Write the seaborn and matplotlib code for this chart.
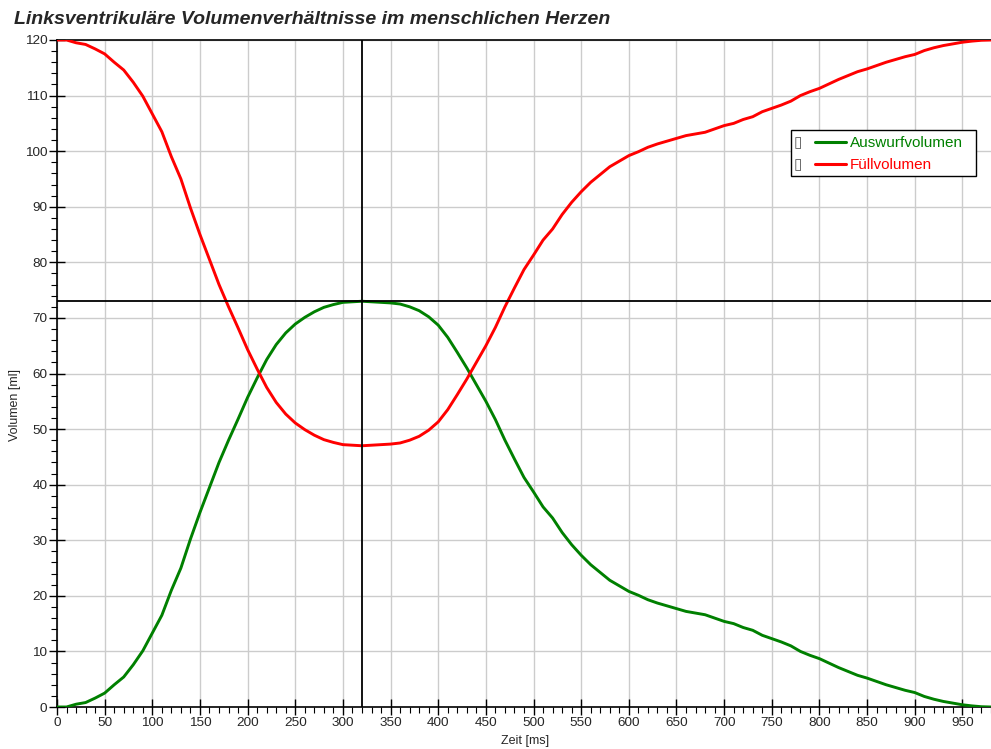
import numpy as np
import pandas as pd
import seaborn as sns
import matplotlib.pyplot as plt
from matplotlib.patches import Rectangle
from matplotlib.lines import Line2D
from matplotlib.ticker import MultipleLocator

# time axis in ms
zeit = list(range(0, 990, 10))

# ejection volume (ml)
auswurf = [0.0, 0.0, 0.5, 0.8, 1.6, 2.5, 4.0, 5.4, 7.6, 10.1,
           13.3, 16.5, 21.0, 25.0, 30.2, 35.0, 39.5, 44.0, 48.0, 51.8,
           55.7, 59.2, 62.5, 65.2, 67.3, 68.9, 70.1, 71.1, 71.9, 72.4,
           72.8, 72.9, 73.0, 72.9, 72.8, 72.7, 72.5, 72.0, 71.3, 70.2,
           68.7, 66.5, 63.8, 61.0, 58.0, 55.0, 51.7, 48.0, 44.6, 41.3,
           38.7, 36.0, 34.0, 31.4, 29.2, 27.3, 25.6, 24.2, 22.8, 21.8,
           20.8, 20.1, 19.3, 18.7, 18.2, 17.7, 17.2, 16.9, 16.6, 16.0,
           15.4, 15.0, 14.3, 13.8, 12.9, 12.3, 11.7, 11.0, 10.0, 9.3,
           8.7, 7.9, 7.1, 6.4, 5.7, 5.2, 4.6, 4.0, 3.5, 3.0,
           2.6, 1.9, 1.4, 1.0, 0.7, 0.4, 0.2, 0.05, 0.0]

# filling volume (ml)
fuell = [120.0, 120.0, 119.5, 119.2, 118.4, 117.5, 116.0, 114.6, 112.4, 109.9,
         106.7, 103.5, 99.0, 95.0, 89.8, 85.0, 80.5, 76.0, 72.0, 68.2,
         64.3, 60.8, 57.5, 54.8, 52.7, 51.1, 49.9, 48.9, 48.1, 47.6,
         47.2, 47.1, 47.0, 47.1, 47.2, 47.3, 47.5, 48.0, 48.7, 49.8,
         51.3, 53.5, 56.2, 59.0, 62.0, 65.0, 68.3, 72.0, 75.4, 78.7,
         81.3, 84.0, 86.0, 88.6, 90.8, 92.7, 94.4, 95.8, 97.2, 98.2,
         99.2, 99.9, 100.7, 101.3, 101.8, 102.3, 102.8, 103.1, 103.4, 104.0,
         104.6, 105.0, 105.7, 106.2, 107.1, 107.7, 108.3, 109.0, 110.0, 110.7,
         111.3, 112.1, 112.9, 113.6, 114.3, 114.8, 115.4, 116.0, 116.5, 117.0,
         117.4, 118.1, 118.6, 119.0, 119.3, 119.6, 119.8, 119.95, 120.0]

marke_x = 320
marke_y = 73

sns.set_style('white')
plt.rcParams['font.family'] = ['Liberation Sans', 'DejaVu Sans']

df = pd.DataFrame({'Zeit': zeit, 'Auswurfvolumen': auswurf, 'Füllvolumen': fuell})

fig = plt.figure(figsize=(9.91, 7.49), dpi=100)
ax = fig.add_axes([57 / 991, 42 / 749, 934 / 991, 667 / 749])

sns.lineplot(data=df, x='Zeit', y='Auswurfvolumen', color='#008000', lw=2.1, ax=ax, zorder=3)
sns.lineplot(data=df, x='Zeit', y='Füllvolumen', color='#ff0000', lw=2.1, ax=ax, zorder=3)

# cursor cross
ax.axvline(marke_x, color='black', lw=1.3, zorder=4)
ax.axhline(marke_y, color='black', lw=1.3, zorder=4)

ax.set_xlim(0, 980)
ax.set_ylim(0, 120)
ax.xaxis.set_major_locator(MultipleLocator(50))
ax.xaxis.set_minor_locator(MultipleLocator(10))
ax.yaxis.set_major_locator(MultipleLocator(10))
ax.yaxis.set_minor_locator(MultipleLocator(2))
ax.grid(True, which='major', color='#cccccc', lw=1)
ax.set_axisbelow(True)

ax.tick_params(which='major', direction='inout', length=12, width=1, color='black',
               labelsize=9.7, pad=1, bottom=True, left=True)
ax.tick_params(which='minor', direction='out', length=4, width=0.8, color='black',
               bottom=True, left=True)

for s in ['left', 'bottom', 'top']:
    ax.spines[s].set_color('black')
    ax.spines[s].set_linewidth(1.2)
ax.spines['right'].set_visible(False)

ax.set_xlabel('Zeit [ms]', fontsize=9)
ax.set_ylabel('Volumen [ml]', fontsize=9)
ax.xaxis.set_label_coords((525 - 57) / 934, -(735 - 707) / 667)
ax.yaxis.set_label_coords(-(57 - 21) / 934, (707 - 405) / 667)

fig.text(14 / 991, 1 - 19 / 749, 'Linksventrikuläre Volumenverhältnisse im menschlichen Herzen',
         fontsize=14, fontweight='bold', style='italic', va='center', ha='left')

# legend box
fig.patches.append(Rectangle((791 / 991, 1 - 176 / 749), 185 / 991, 46 / 749,
                             transform=fig.transFigure, fc='white', ec='black', lw=1, zorder=5))
handles = [Line2D([], [], color='#008000', lw=2.2), Line2D([], [], color='#ff0000', lw=2.2)]
leg = fig.legend(handles, ['Auswurfvolumen', 'Füllvolumen'], loc='upper left',
                 bbox_to_anchor=(815 / 991, 1 - 136 / 749), frameon=False,
                 labelcolor='linecolor', fontsize=11, handlelength=2.0,
                 handletextpad=0.3, borderpad=0, borderaxespad=0, labelspacing=0.55)
leg.set_zorder(6)
for yy in [143, 165]:
    fig.text(798 / 991, 1 - yy / 749, '\u25af', fontsize=11, color='#555555',
             family='DejaVu Sans', ha='center', va='center', zorder=6)

plt.savefig('out.png', dpi=100)
